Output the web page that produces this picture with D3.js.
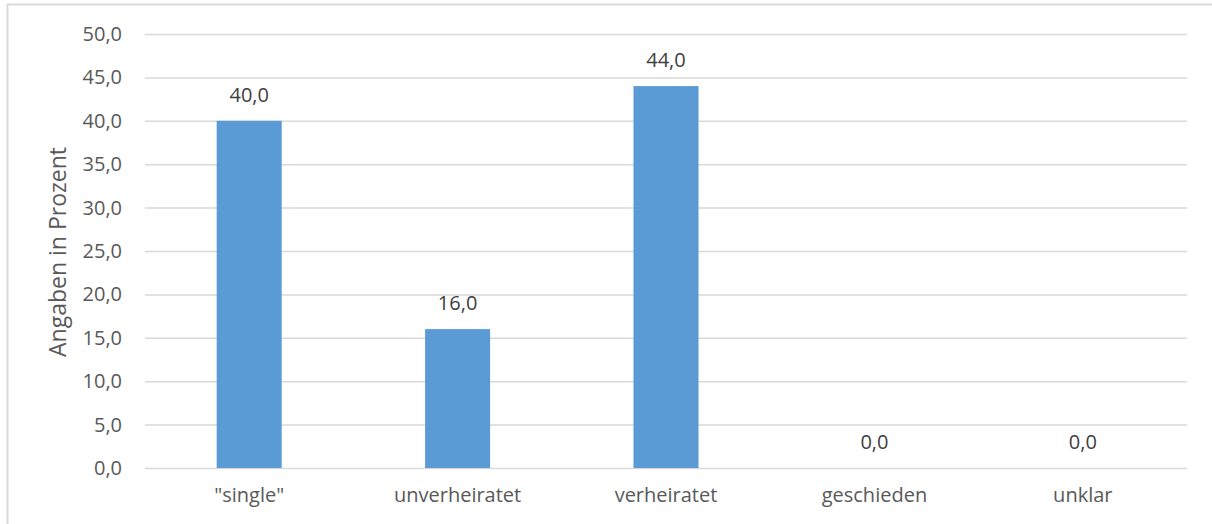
<!DOCTYPE html>
<html><head><meta charset="utf-8">
<script src="https://cdn.jsdelivr.net/npm/d3@7"></script>
<style>body{margin:0;background:#fff;} text{font-family:"Open Sans",sans-serif;fill:#595959;}</style>
</head><body><svg id="c" width="1212" height="524"></svg>
<script>
const categories = ['"single"', 'unverheiratet', 'verheiratet', 'geschieden', 'unklar'];
const values = [40.0, 16.0, 44.0, 0.0, 0.0];
const yTicks = [0, 5, 10, 15, 20, 25, 30, 35, 40, 45, 50];
const yLabel = "Angaben in Prozent";

(function () {
const svg = d3.select("#c");
const fmt = v => d3.format(".1f")(v).replace(".", ",");
const mLeft = 145, mRight = 1187, mTop = 34, mBottom = 468;

// frame
svg.append("line").attr("x1", 7.5).attr("x2", 7.5).attr("y1", 4).attr("y2", 524).attr("stroke", "#d9d9d9").attr("stroke-width", 2);
svg.append("line").attr("x1", 7).attr("x2", 1212).attr("y1", 4.5).attr("y2", 4.5).attr("stroke", "#d9d9d9").attr("stroke-width", 2);

const x = d3.scaleBand().domain(categories).range([mLeft, mRight]).paddingInner(0.688).paddingOuter(0.344);
const y = d3.scaleLinear().domain([0, 50]).range([mBottom, mTop]);

const yAxis = svg.append("g").attr("transform", `translate(${mLeft},0)`)
  .call(d3.axisLeft(y).tickValues(yTicks).tickFormat(fmt).tickSize(-(mRight - mLeft)).tickPadding(23));
yAxis.select(".domain").remove();
yAxis.selectAll(".tick line").attr("stroke", "#d9d9d9").attr("stroke-width", 1.5);
yAxis.selectAll(".tick text").style("font-size", "20px").style("fill", "#595959");

const xAxis = svg.append("g").attr("transform", `translate(0,${mBottom})`)
  .call(d3.axisBottom(x).tickSize(0).tickPadding(20));
xAxis.select(".domain").remove();
xAxis.selectAll(".tick text").style("font-size", "20px").style("fill", "#595959");

svg.append("g").selectAll("rect").data(values).join("rect")
  .attr("x", (d, i) => x(categories[i])).attr("width", x.bandwidth())
  .attr("y", d => y(d)).attr("height", d => y(0) - y(d)).attr("fill", "#5b9bd5");

svg.append("g").selectAll("text").data(values).join("text")
  .attr("x", (d, i) => x(categories[i]) + x.bandwidth() / 2)
  .attr("y", d => y(d) - 19).attr("text-anchor", "middle")
  .style("font-size", "20px").style("fill", "#404040").text(fmt);

svg.append("text").attr("transform", `translate(66,252) rotate(-90)`)
  .attr("text-anchor", "middle").style("font-size", "23px").text(yLabel);
})();
</script></body></html>
